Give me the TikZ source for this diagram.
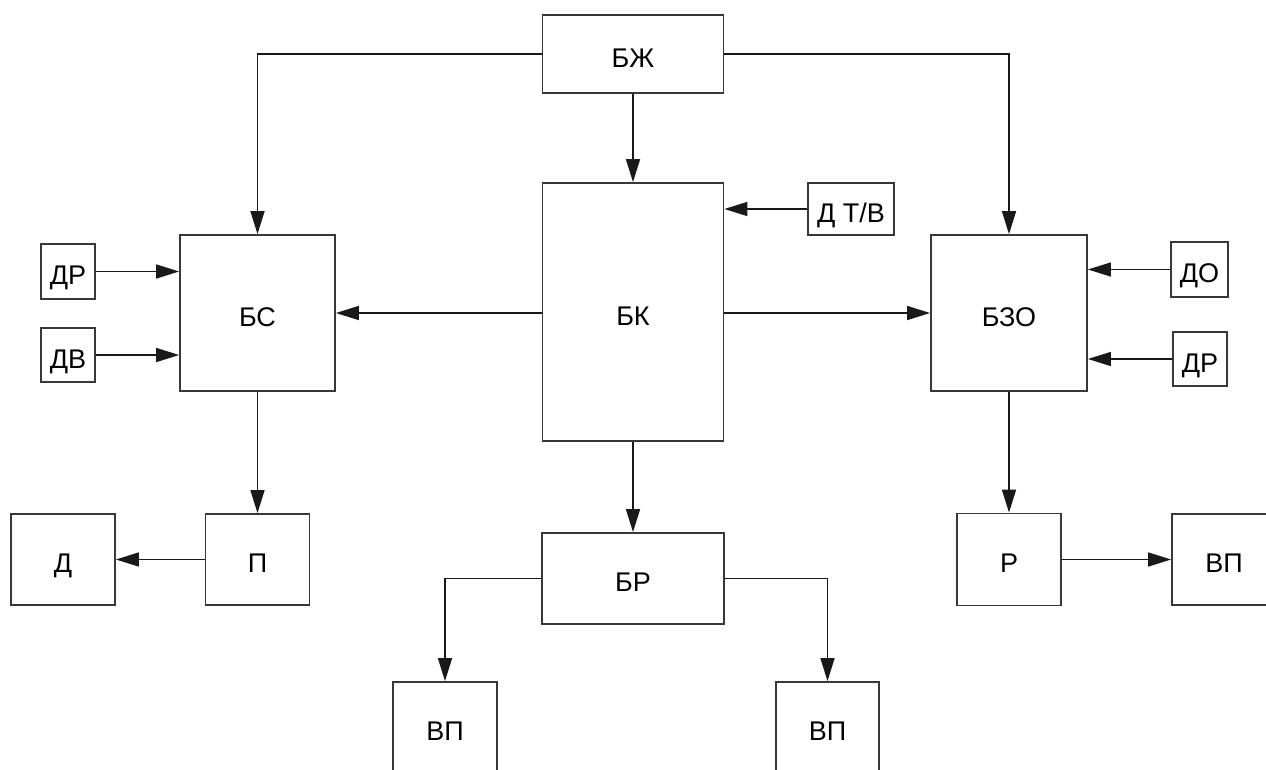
\documentclass[tikz,border=0pt]{standalone}
\usepackage{fontspec}
\setmainfont{Liberation Sans}
\usetikzlibrary{arrows.meta}
\begin{document}
\begin{tikzpicture}[x=1pt,y=-1pt,
  blk/.style={draw=black!78,line width=1.8pt,inner sep=0pt,
    font=\fontsize{27}{30}\selectfont,text height=26pt,text depth=0pt},
  conn/.style={draw=black!90,line width=1.5pt,
    -{Triangle[length=23pt,width=14pt]}}]
\useasboundingbox (0,0) rectangle (1266,769);
\clip (0,0) rectangle (1266,769);
\fill[white] (0,0) rectangle (1266,769);

% main blocks
\node[blk,minimum width=181pt,minimum height=78pt]  (bzh) at (633,54)     {БЖ};
\node[blk,minimum width=181pt,minimum height=258pt] (bk)  at (633,312)    {БК};
\node[blk,minimum width=155pt,minimum height=156pt] (bs)  at (257.5,313)  {БС};
\node[blk,minimum width=156pt,minimum height=156pt] (bzo) at (1009,313)   {БЗО};
\node[blk,minimum width=182pt,minimum height=91pt]  (br)  at (633,578.5)  {БР};

% sensors
\node[blk,minimum width=54pt,minimum height=55pt] (dr1) at (68,271.5)   {ДР};
\node[blk,minimum width=54pt,minimum height=54pt] (dv)  at (68,355)     {ДВ};
\node[blk,minimum width=57pt,minimum height=55pt] (do)  at (1199.5,269.5) {ДО};
\node[blk,minimum width=54pt,minimum height=54pt] (dr2) at (1200,359)   {ДР};
\node[blk,minimum width=86pt,minimum height=52pt] (dtv) at (851,209)    {Д Т/В};

% output blocks
\node[blk,minimum width=104pt,minimum height=91pt] (d)   at (63,559.5)   {Д};
\node[blk,minimum width=104pt,minimum height=91pt] (p)   at (257.5,559.5) {П};
\node[blk,minimum width=104pt,minimum height=92pt] (r)   at (1009,559.5) {Р};
\node[blk,minimum width=104pt,minimum height=91pt] (vp3) at (1224,559.5) {ВП};
\node[blk,minimum width=104pt,minimum height=91pt] (vp1) at (445,727.5)  {ВП};
\node[blk,minimum width=103pt,minimum height=91pt] (vp2) at (827.5,727.5) {ВП};

% connectors
\draw[conn] (bzh.west) -| (bs.north);
\draw[conn] (bzh.east) -| (bzo.north);
\draw[conn] (bzh.south) -- (bk.north);
\draw[conn] (bk.west |- bs.east) -- (bs.east);
\draw[conn] (bk.east |- bzo.west) -- (bzo.west);
\draw[conn] (dtv.west) -- (bk.east |- dtv.west);
\draw[conn] (dr1.east) -- (bs.west |- dr1.east);
\draw[conn] (dv.east) -- (bs.west |- dv.east);
\draw[conn] (do.west) -- (bzo.east |- do.west);
\draw[conn] (dr2.west) -- (bzo.east |- dr2.west);
\draw[conn] (bs.south) -- (p.north);
\draw[conn] (p.west) -- (d.east);
\draw[conn] (bk.south) -- (br.north);
\draw[conn] (br.west) -| (vp1.north);
\draw[conn] (br.east) -| (vp2.north);
\draw[conn] (bzo.south) -- (r.north);
\draw[conn] (r.east) -- (vp3.west);
\end{tikzpicture}
\end{document}
